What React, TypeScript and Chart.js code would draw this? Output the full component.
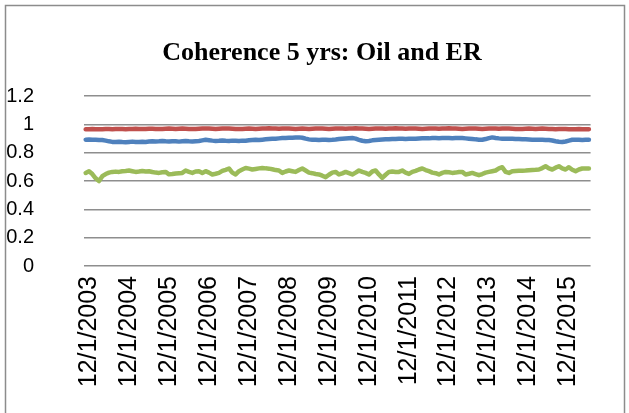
import React, { useEffect, useRef } from "react";
import { Chart, registerables } from "chart.js";

Chart.register(...registerables);

const TITLE = "Coherence 5 yrs: Oil and ER";
const START_YEAR = 2003;
const START_MONTH = 12;
const MONTH_COUNT = 152;
const Y_TICKS = [0, 0.2, 0.4, 0.6, 0.8, 1.0, 1.2];

const redSeries = [
  0.966, 0.967, 0.968, 0.967, 0.966, 0.967, 0.968, 0.968, 0.967, 0.968,
  0.969, 0.968, 0.967, 0.968, 0.969, 0.970, 0.969, 0.968, 0.969, 0.970,
  0.970, 0.969, 0.968, 0.969, 0.970, 0.971, 0.970, 0.969, 0.970, 0.971,
  0.970, 0.969, 0.968, 0.969, 0.970, 0.971, 0.972, 0.971, 0.970, 0.969,
  0.970, 0.971, 0.972, 0.971, 0.970, 0.969, 0.968, 0.969, 0.970, 0.971,
  0.970, 0.969, 0.970, 0.971, 0.972, 0.973, 0.972, 0.971, 0.970, 0.971,
  0.972, 0.971, 0.970, 0.969, 0.970, 0.971, 0.970, 0.969, 0.970, 0.971,
  0.972, 0.971, 0.970, 0.969, 0.970, 0.971, 0.972, 0.971, 0.970, 0.971,
  0.972, 0.973, 0.972, 0.971, 0.970, 0.969, 0.970, 0.971, 0.972, 0.971,
  0.970, 0.971, 0.972, 0.973, 0.972, 0.971, 0.970, 0.971, 0.972, 0.971,
  0.970, 0.969, 0.970, 0.971, 0.972, 0.971, 0.970, 0.971, 0.972, 0.973,
  0.972, 0.971, 0.970, 0.969, 0.970, 0.971, 0.972, 0.971, 0.970, 0.969,
  0.970, 0.971, 0.972, 0.971, 0.970, 0.971, 0.972, 0.971, 0.970, 0.969,
  0.968, 0.969, 0.970, 0.971, 0.970, 0.969, 0.970, 0.971, 0.970, 0.969,
  0.968, 0.967, 0.968, 0.969, 0.968, 0.967, 0.966, 0.967, 0.968, 0.967,
  0.966, 0.967,
];

const blueSeries = [
  0.893, 0.894, 0.892, 0.893, 0.891, 0.890, 0.886, 0.881, 0.877, 0.876,
  0.878, 0.876, 0.875, 0.877, 0.879, 0.877, 0.876, 0.878, 0.877, 0.880,
  0.882, 0.880, 0.881, 0.883, 0.881, 0.880, 0.882, 0.881, 0.879, 0.881,
  0.883, 0.881, 0.880, 0.882, 0.884, 0.888, 0.892, 0.889, 0.886, 0.884,
  0.885, 0.887, 0.885, 0.884, 0.886, 0.885, 0.884, 0.886, 0.885, 0.888,
  0.890, 0.892, 0.891, 0.893, 0.895, 0.897, 0.899, 0.900, 0.902, 0.904,
  0.905, 0.906, 0.907, 0.908, 0.909, 0.906, 0.900, 0.895, 0.892, 0.893,
  0.891, 0.892, 0.893, 0.891, 0.892, 0.894, 0.897, 0.899, 0.901, 0.903,
  0.904, 0.900, 0.892, 0.885, 0.881, 0.884, 0.888, 0.890, 0.892, 0.894,
  0.896, 0.895, 0.897, 0.898, 0.899, 0.900, 0.898, 0.899, 0.900, 0.899,
  0.901, 0.902, 0.903, 0.902, 0.904, 0.905, 0.903, 0.904, 0.905, 0.904,
  0.903, 0.904, 0.905, 0.904, 0.902, 0.900, 0.898, 0.895, 0.893, 0.892,
  0.897, 0.904, 0.909, 0.905, 0.902, 0.900, 0.899, 0.899, 0.900, 0.898,
  0.897, 0.896, 0.895, 0.894, 0.893, 0.892, 0.893, 0.892, 0.891, 0.890,
  0.887, 0.882, 0.878, 0.876, 0.880, 0.886, 0.892, 0.893, 0.892, 0.891,
  0.892, 0.892,
];

const greenSeries = [
  0.658, 0.670, 0.650, 0.620, 0.600, 0.635, 0.650, 0.660, 0.665, 0.667,
  0.665, 0.670, 0.672, 0.675, 0.670, 0.665, 0.668, 0.672, 0.668, 0.670,
  0.664, 0.660, 0.658, 0.662, 0.665, 0.648, 0.650, 0.654, 0.656, 0.658,
  0.675, 0.665, 0.658, 0.668, 0.670, 0.658, 0.670, 0.660, 0.647, 0.652,
  0.658, 0.672, 0.680, 0.689, 0.660, 0.647, 0.670, 0.682, 0.693, 0.688,
  0.682, 0.686, 0.690, 0.693, 0.690, 0.688, 0.684, 0.678, 0.675, 0.658,
  0.668, 0.675, 0.670, 0.665, 0.678, 0.689, 0.675, 0.660, 0.656, 0.650,
  0.647, 0.638, 0.628, 0.645, 0.660, 0.665, 0.647, 0.655, 0.665, 0.656,
  0.647, 0.660, 0.675, 0.665, 0.658, 0.647, 0.668, 0.675, 0.647, 0.623,
  0.645, 0.665, 0.668, 0.664, 0.665, 0.675, 0.660, 0.651, 0.665, 0.672,
  0.682, 0.689, 0.678, 0.670, 0.660, 0.656, 0.647, 0.658, 0.665, 0.662,
  0.658, 0.660, 0.664, 0.665, 0.647, 0.652, 0.658, 0.650, 0.642, 0.650,
  0.660, 0.665, 0.670, 0.675, 0.690, 0.698, 0.665, 0.658, 0.670, 0.672,
  0.673, 0.674, 0.675, 0.677, 0.679, 0.680, 0.682, 0.692, 0.705, 0.690,
  0.682, 0.695, 0.705, 0.690, 0.682, 0.698, 0.680, 0.670, 0.682, 0.689,
  0.689, 0.689,
];

const categories: string[] = Array.from({ length: MONTH_COUNT }, (_, i) => {
  const m0 = START_MONTH - 1 + i;
  const y = START_YEAR + Math.floor(m0 / 12);
  const m = (m0 % 12) + 1;
  return `${m}/1/${y}`;
});

const borderPlugin = {
  id: "outerBorder",
  afterLayout(chart: any) {
    const t = chart.titleBlock;
    if (t) {
      t.left = 41;
      t.right = 603;
    }
  },
  beforeDraw(chart: any) {
    const ctx = chart.ctx;
    ctx.save();
    ctx.fillStyle = "#ffffff";
    ctx.fillRect(0, 0, chart.width, chart.height);
    ctx.strokeStyle = "#8c8c8c";
    ctx.lineWidth = 1.5;
    ctx.strokeRect(5.5, 5.5, 619, 430);
    ctx.restore();
  },
};

export default function App() {
  const ref = useRef<HTMLCanvasElement | null>(null);

  useEffect(() => {
    if (!ref.current) return;
    const lineDs = (data: number[], color: string) => ({
      data,
      borderColor: color,
      backgroundColor: color,
      borderWidth: 4.5,
      pointRadius: 0,
      pointHoverRadius: 0,
      tension: 0,
      fill: false,
      borderJoinStyle: "round" as const,
      borderCapStyle: "round" as const,
    });
    const chart = new Chart(ref.current, {
      type: "line",
      data: {
        labels: categories,
        datasets: [
          lineDs(blueSeries, "#4F81BD"),
          lineDs(redSeries, "#C0504D"),
          lineDs(greenSeries, "#9BBB59"),
        ],
      },
      plugins: [borderPlugin],
      options: {
        responsive: false,
        animation: false,
        devicePixelRatio: 1,
        layout: { padding: { left: 0, right: 26, top: 0, bottom: 0 } },
        plugins: {
          legend: { display: false },
          tooltip: { enabled: false },
          title: {
            display: true,
            text: TITLE,
            color: "#000000",
            font: { family: "'Liberation Serif', 'Times New Roman', serif", size: 26, weight: "bold" },
            padding: { top: 38, bottom: 27 },
          },
        },
        scales: {
          x: {
            type: "category",
            offset: true,
            grid: { display: false, drawTicks: false },
            border: { display: false },
            afterFit: (s: any) => {
              s.height = 147;
            },
            ticks: {
              autoSkip: false,
              maxRotation: 90,
              minRotation: 90,
              padding: 10,
              labelOffset: 3,
              color: "#000000",
              font: { family: "'Liberation Sans', Arial, sans-serif", size: 25 },
              callback: function (_v: any, i: number) {
                return i % 12 === 0 ? categories[i] : "";
              },
            },
          },
          y: {
            min: Y_TICKS[0],
            max: Y_TICKS[Y_TICKS.length - 1],
            afterBuildTicks: (s: any) => {
              s.ticks = Y_TICKS.map((v) => ({ value: v }));
            },
            afterFit: (s: any) => {
              s.width = 84;
            },
            grid: { color: "#8e8e8e", lineWidth: 1.5, drawTicks: false },
            border: { display: false },
            ticks: {
              padding: 50,
              color: "#000000",
              font: { family: "'Liberation Sans', Arial, sans-serif", size: 20 },
              callback: (v: any) => String(+Number(v).toFixed(1)),
            },
          },
        },
      },
    });
    return () => chart.destroy();
  }, []);

  return (
    <div style={{ position: "fixed", left: 0, top: 0, width: 629, height: 413, background: "#fff" }}>
      <canvas ref={ref} width={629} height={413} style={{ display: "block", width: 629, height: 413 }} />
    </div>
  );
}
